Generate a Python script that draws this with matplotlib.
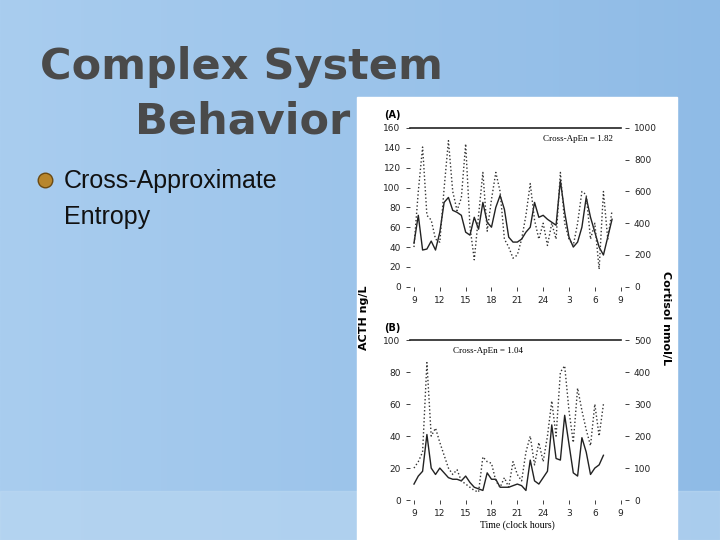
import numpy as np
import matplotlib.pyplot as plt
from matplotlib.patches import Rectangle

# hours since 09:00, half-hour sampling
ticks_pos = [0, 3, 6, 9, 12, 15, 18, 21, 24]
ticks_lab = ['9', '12', '15', '18', '21', '24', '3', '6', '9']

acth_a = [44, 72, 37, 38, 46, 37, 55, 85, 90, 77, 75, 72, 55, 52, 70, 58, 85, 65, 60, 80,
          92, 78, 50, 45, 45, 48, 55, 60, 85, 70, 72, 68, 65, 62, 107, 75, 50, 40, 45, 60,
          90, 70, 55, 40, 32, 50, 68]
cort_a = [250, 600, 880, 450, 420, 300, 280, 620, 920, 600, 480, 560, 900, 380, 170, 450,
          720, 350, 550, 720, 600, 300, 250, 180, 200, 300, 450, 650, 420, 300, 400, 260,
          400, 300, 720, 400, 300, 260, 400, 600, 580, 300, 400, 110, 600, 300, 480]
acth_b = [10, 15, 18, 41, 20, 16, 20, 17, 14, 13, 13, 12, 15, 11, 8, 7, 6, 17, 13, 13,
          8, 8, 8, 9, 10, 9, 6, 25, 12, 10, 14, 18, 47, 26, 25, 53, 35, 17, 15, 39, 30,
          16, 20, 22, 28]
cort_b = [100, 120, 150, 430, 200, 225, 180, 140, 100, 80, 95, 60, 50, 40, 30, 25, 135,
          120, 115, 60, 40, 70, 40, 120, 80, 60, 150, 200, 110, 180, 120, 200, 310, 200,
          400, 420, 280, 180, 350, 280, 220, 170, 300, 200, 300]

fig = plt.figure(figsize=(7.2, 5.4), dpi=100)

# slide background
bg = fig.add_axes([0, 0, 1, 1])
grad = np.linspace(0, 1, 256)
img = np.outer(np.ones(256), grad)
bg.imshow(img, cmap=plt.matplotlib.colors.LinearSegmentedColormap.from_list(
    'b', ['#a9cdef', '#8fbbe6']), aspect='auto', extent=[0, 1, 0, 1])
bg.add_patch(Rectangle((0, 0), 1, 0.09, color='#bcd9f2', alpha=0.6))
bg.add_patch(Rectangle((357/720, 0), 320/720, 443/540, color='white'))
bg.set_xlim(0, 1); bg.set_ylim(0, 1); bg.axis('off')

fig.text(40/720, 1-67/540, 'Complex System', fontsize=31, fontweight='bold',
         color='#4a4a4a', family='DejaVu Sans', va='center')
fig.text(135/720, 1-121/540, 'Behavior', fontsize=31, fontweight='bold',
         color='#4a4a4a', family='DejaVu Sans', va='center')
bg.scatter([45/720], [1-180/540], s=110, color='#b8862c', edgecolor='#6b4a12', zorder=3)
fig.text(64/720, 1-181/540, 'Cross-Approximate', fontsize=18, color='#111', va='center',
         family='Liberation Sans')
fig.text(64/720, 1-217/540, 'Entropy', fontsize=18, color='#111', va='center',
         family='Liberation Sans')


def panel(rect, acth, cort, ymax, ystep, rmax, rstep, label, txt, txt_x):
    ax = fig.add_axes(rect)
    x = np.arange(len(acth)) * 0.5
    ax.plot(x, acth, color='#222', lw=1.0)
    ax.set_ylim(0, ymax)
    ax.set_xlim(-0.5, 24.5)
    ax.set_yticks(np.arange(0, ymax + 1, ystep))
    ax.set_xticks(ticks_pos)
    ax.set_xticklabels(ticks_lab)
    ax2 = ax.twinx()
    ax2.plot(np.arange(len(cort)) * 0.5, cort, color='#333', lw=1.0, ls=':')
    ax2.set_ylim(0, rmax)
    ax2.set_yticks(np.arange(0, rmax + 1, rstep))
    for a in (ax, ax2):
        a.patch.set_alpha(0)
        a.spines['bottom'].set_visible(False)
        a.spines['top'].set_visible(False)
        a.spines['left'].set_visible(False)
        a.spines['right'].set_visible(False)
        a.tick_params(labelsize=6.5, length=3, width=0.6, colors='#222')
    ax.axhline(ymax, xmin=0, xmax=0.98, color='#222', lw=1.2, clip_on=False)
    ax.text(-0.12, 1.06, label, transform=ax.transAxes, fontsize=7, fontweight='bold')
    ax.text(txt_x, 0.92, txt, transform=ax.transAxes, fontsize=6.5,
            family='Liberation Serif', ha='left')
    return ax


panel([0.569, 0.469, 0.299, 0.294], acth_a, cort_a, 160, 20, 1000, 200,
      '(A)', 'Cross-ApEn = 1.82', 0.62)
axb = panel([0.569, 0.074, 0.299, 0.296], acth_b, cort_b, 100, 20, 500, 100,
            '(B)', 'Cross-ApEn = 1.04', 0.2)
axb.set_xlabel('Time (clock hours)', fontsize=7, family='Liberation Serif', labelpad=2)

fig.text(364/720, 1-318/540, 'ACTH ng/L', rotation=90, fontsize=8, fontweight='bold',
         ha='center', va='center')
fig.text(666/720, 1-318/540, 'Cortisol nmol/L', rotation=270, fontsize=8,
         fontweight='bold', ha='center', va='center')

fig.savefig('out.png', dpi=100)
